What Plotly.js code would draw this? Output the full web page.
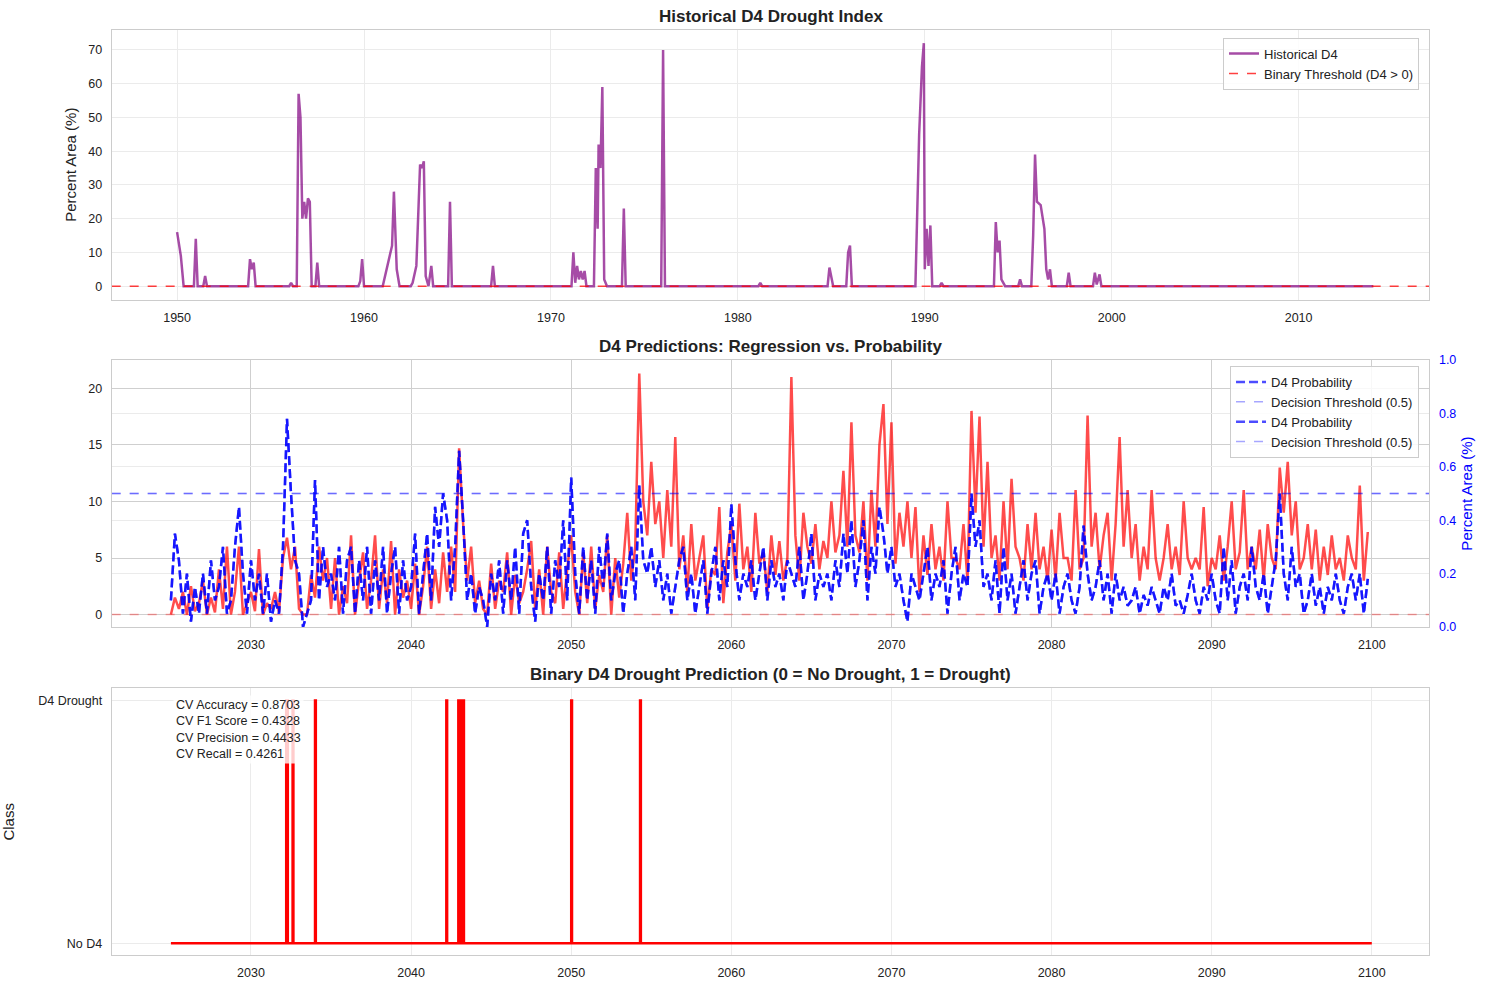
<!DOCTYPE html>
<html>
<head>
<meta charset="utf-8">
<script src="https://cdn.plot.ly/plotly-3.0.1.min.js"></script>
<style>body{margin:0;background:#fff}#chart{width:1489px;height:989px}</style>
</head>
<body>
<div id="chart"></div>
<script>
// Historical D4 (percent area), sparse breakpoints
var histX = [1950.0,1950.2,1950.35,1950.9,1951.0,1951.1,1951.4,1951.5,1951.6,1953.8,1953.9,1954.0,1954.1,1954.2,1956.0,1956.1,1956.2,1956.4,1956.5,1956.6,1956.7,1956.8,1956.9,1957.0,1957.1,1957.2,1957.4,1957.5,1957.6,1959.7,1959.8,1959.9,1960.0,1961.0,1961.5,1961.6,1961.75,1961.9,1962.5,1962.6,1962.8,1963.0,1963.1,1963.2,1963.3,1963.45,1963.6,1963.7,1964.5,1964.6,1964.7,1966.8,1966.9,1967.0,1971.1,1971.2,1971.3,1971.4,1971.5,1971.6,1971.7,1971.8,1971.9,1972.3,1972.4,1972.5,1972.55,1972.65,1972.75,1972.85,1973.0,1973.8,1973.9,1974.0,1975.9,1976.0,1976.1,1981.1,1981.2,1981.3,1984.8,1984.9,1985.1,1985.8,1985.9,1986.0,1986.1,1989.5,1989.7,1989.85,1989.95,1990.0,1990.1,1990.2,1990.3,1990.4,1990.8,1990.9,1991.0,1993.7,1993.8,1993.9,1994.0,1994.1,1994.3,1995.0,1995.1,1995.2,1995.7,1995.8,1995.9,1996.0,1996.2,1996.4,1996.5,1996.6,1996.7,1996.8,1997.6,1997.7,1997.8,1999.0,1999.1,1999.2,1999.35,1999.45,2014.0];
var histY = [16,9,0,0,14,0,0,3,0,0,8,5,7,0,0,1,0,0,57,50,20,25,20,26,25,0,0,7,0,0,1.5,8,0,0,12,28,5,0,0,1,6,36,35,37,3,0,6,0,0,25,0,0,6,0,0,10,1,6,2,4.5,2,4.5,0,0,35,17,42,35,59,2,0,0,23,0,0,70,0,0,1,0,0,5.5,0,0,10,12,0,0,45,65,72,5,17,6,18,0,0,1,0,0,19,10,13.5,2,0,0,2,0,0,15,39,25,24,17,5,2,5,0,0,4,0,0,4,0.5,3.5,0,0];

// Future predictions, quarterly from 2025.0
var startYear = 2025;
var regression = [
0,1.5,0.5,2, 0,2.5,0.3,1, 3,0,1.5,0.2, 4,0.5,6,0, 2,6,0,1,
2,0.3,5.8,0, 1,0.5,2,0.2, 5,6.8,4,6, 0.5,0,0,3.5, 1.5,6,3,5,
0.5,5,0,2.5, 1,7,0,3, 5.5,0.5,3,7, 0.5,4,1,6.5, 0,4,1.5,3,
0.5,4.5,0,2.5, 6,0.5,4,1, 5.5,2,6,2, 14.7,8,3,6, 1,3,0.5,0,
4.5,0.5,3,2, 5.5,0,3.5,1, 2,4,6.5,0.5, 4,0,6,2, 1,5.5,0.5,4,
7,2,0,5.5, 1,6,0.5,3.5, 2,7,0,5, 1.5,4.5,9,3, 6,21.3,10,7,
13.5,8,10,5, 11,6,15.7,4, 7,2,8,3, 5,7,0.5,4, 3.5,9.5,1,5.5,
8,3,9.8,4, 6,2,9,4.5, 5.5,2,7,3.5, 6.5,3,5,21, 7,3,9,6,
4.5,8,4,6.5, 5,10,5.5,7, 12.7,6,17,7, 5.5,10,3,11, 6,15,18.6,8,
17,4.5,9,6, 10,5,9.5,2, 7,3.5,8,4, 6,3,10,5, 5,4,8,3,
18,9,17.5,6, 13.5,5,7,3, 10,4,12,6, 5,3,8,4, 9,4,6,3,
7.5,3,9,5, 5,3,11,4, 5,17.6,6,9, 4,7,9,3, 8,15.7,6,11,
5,8,3,6, 4,11,5,3, 5,8,4,6, 3.5,10,5,4, 5,4,9.5,2.5,
5,4,7,3, 6,10,4,5.5, 11,4,6,4, 7.5,3,8,5, 4,13,9,13.5,
7,10,4,5, 8,4,7.5,3, 6,3.5,7,4, 5,3,7,5, 4,11.4,3,7.3];
var probability = [
0.1,0.35,0.25,0.05, 0.2,0.02,0.15,0.05, 0.2,0.05,0.25,0.1, 0.15,0.3,0.05,0.1, 0.3,0.45,0.2,0.05,
0.25,0.1,0.2,0.05, 0.2,0.02,0.1,0.05, 0.3,0.78,0.5,0.25, 0.2,0,0.05,0.1, 0.55,0.1,0.3,0.15,
0.2,0.1,0.3,0.05, 0.25,0.3,0.05,0.25, 0.1,0.3,0.05,0.25, 0.1,0.3,0.05,0.2, 0.3,0.05,0.25,0.1,
0.15,0.35,0.05,0.2, 0.35,0.1,0.45,0.3, 0.5,0.4,0.1,0.3, 0.66,0.4,0.1,0.2, 0.05,0.15,0.1,0,
0.2,0.1,0.25,0.05, 0.25,0.1,0.3,0.05, 0.35,0.4,0.15,0.02, 0.2,0.1,0.3,0.05, 0.25,0.15,0.4,0.1,
0.56,0.2,0.05,0.3, 0.1,0.25,0.05,0.3, 0.15,0.35,0.1,0.2, 0.25,0.05,0.2,0.3, 0.1,0.53,0.25,0.2,
0.3,0.15,0.25,0.1, 0.2,0.05,0.15,0.25, 0.3,0.1,0.2,0.05, 0.15,0.25,0.05,0.2, 0.3,0.1,0.25,0.15,
0.46,0.25,0.1,0.2, 0.15,0.25,0.1,0.2, 0.3,0.1,0.25,0.15, 0.2,0.1,0.25,0.2, 0.15,0.3,0.1,0.2,
0.35,0.1,0.2,0.15, 0.2,0.1,0.25,0.15, 0.35,0.2,0.4,0.15, 0.25,0.4,0.1,0.3, 0.2,0.45,0.35,0.2,
0.3,0.15,0.2,0.1, 0.02,0.2,0.15,0.1, 0.2,0.3,0.1,0.2, 0.15,0.25,0.05,0.2, 0.3,0.1,0.2,0.15,
0.5,0.3,0.4,0.15, 0.2,0.1,0.25,0.05, 0.3,0.1,0.2,0.05, 0.15,0.25,0.1,0.2, 0.25,0.05,0.15,0.2,
0.1,0.2,0.05,0.15, 0.2,0.1,0.05,0.15, 0.38,0.2,0.1,0.15, 0.25,0.1,0.2,0.05, 0.2,0.1,0.15,0.08,
0.1,0.15,0.05,0.12, 0.08,0.15,0.1,0.05, 0.15,0.1,0.2,0.08, 0.1,0.05,0.12,0.2, 0.1,0.05,0.15,0.1,
0.2,0.1,0.05,0.3, 0.1,0.25,0.05,0.15, 0.2,0.1,0.3,0.15, 0.1,0.2,0.05,0.15, 0.25,0.5,0.2,0.1,
0.3,0.15,0.2,0.05, 0.1,0.2,0.08,0.15, 0.05,0.15,0.1,0.2, 0.1,0.05,0.15,0.2, 0.1,0.2,0.05,0.18];
var futX = regression.map(function (_, i) { return startYear + i * 0.25; });

// Binary prediction: drought spells [start, end]
var droughtSpells = [[2032.2,2032.3],[2032.6,2032.65],[2034.0,2034.05],[2042.2,2042.25],[2042.95,2043.05],[2043.2,2043.3],[2050.0,2050.05],[2054.3,2054.35]];
var binX = [2025], binY = [0];
droughtSpells.forEach(function (s) { binX.push(s[0], s[0], s[1], s[1]); binY.push(0, 1, 1, 0); });
binX.push(2100); binY.push(0);

var cvText = ['CV Accuracy = 0.8703','CV F1 Score = 0.4328','CV Precision = 0.4433','CV Recall = 0.4261'];

var F = 'Liberation Sans, Arial, sans-serif';
var blue = 'rgba(0,0,255,0.7)';
var thr = 'rgba(0,0,255,0.35)';

var data = [
  {x: histX, y: histY, mode: 'lines', name: 'Historical D4', line: {color: 'rgba(128,0,128,0.7)', width: 2.5}, xaxis: 'x', yaxis: 'y', legend: 'legend'},
  {x: [1946.5, 2017], y: [0, 0], mode: 'lines', name: 'Binary Threshold (D4 > 0)', line: {color: 'rgba(255,0,0,0.75)', width: 1.5, dash: 'dash'}, xaxis: 'x', yaxis: 'y', legend: 'legend'},

  {x: [2021.3, 2103.6], y: [0, 0], mode: 'lines', showlegend: false, line: {color: 'rgba(255,0,0,0.35)', width: 1.5, dash: 'dash'}, xaxis: 'x2', yaxis: 'y2'},
  {x: futX, y: regression, mode: 'lines', showlegend: false, line: {color: 'rgba(255,0,0,0.7)', width: 2.5}, xaxis: 'x2', yaxis: 'y2'},
  {x: futX, y: probability, mode: 'lines', name: 'D4 Probability', line: {color: blue, width: 2.5, dash: '9px,4px'}, xaxis: 'x2', yaxis: 'y4', legend: 'legend2'},
  {x: [2021.3, 2103.6], y: [0.5, 0.5], mode: 'lines', name: 'Decision Threshold (0.5)', line: {color: thr, width: 1.5, dash: 'dash'}, xaxis: 'x2', yaxis: 'y4', legend: 'legend2'},
  {x: futX, y: probability, mode: 'lines', name: 'D4 Probability', line: {color: blue, width: 2.5, dash: '9px,4px'}, xaxis: 'x2', yaxis: 'y4', legend: 'legend2'},
  {x: [2021.3, 2103.6], y: [0.5, 0.5], mode: 'lines', name: 'Decision Threshold (0.5)', line: {color: thr, width: 1.5, dash: 'dash'}, xaxis: 'x2', yaxis: 'y4', legend: 'legend2'},

  {x: binX, y: binY, mode: 'lines', showlegend: false, line: {color: 'red', width: 2.5}, xaxis: 'x3', yaxis: 'y3'}
];

var ax = {showline: true, linecolor: '#ccc', mirror: true, gridcolor: '#ebebeb', zeroline: false, ticks: '', ticklabelstandoff: 6, tickfont: {size: 12.5, color: '#222'}};
function A(o) { return Object.assign({}, ax, o); }

var layout = {
  width: 1489, height: 989, paper_bgcolor: '#fff', plot_bgcolor: '#fff',
  font: {family: F, color: '#222'}, margin: {l: 0, r: 0, t: 0, b: 0},
  xaxis: A({domain: [0.075, 0.96], anchor: 'y', range: [1946.5, 2017], tickvals: [1950,1960,1970,1980,1990,2000,2010]}),
  yaxis: A({domain: [0.697, 0.97], anchor: 'x', range: [-4, 76], dtick: 10, title: {text: 'Percent Area (%)', font: {size: 15}, standoff: 8}}),
  xaxis2: A({domain: [0.075, 0.96], anchor: 'y2', range: [2021.3, 2103.6], tickvals: [2030,2040,2050,2060,2070,2080,2090,2100], gridcolor: '#cfcfcf'}),
  yaxis2: A({domain: [0.366, 0.636], anchor: 'x2', range: [-1.1, 22.5], dtick: 5, gridcolor: '#cfcfcf'}),
  yaxis4: A({overlaying: 'y2', side: 'right', anchor: 'x2', range: [0, 1], dtick: 0.2, tickformat: '.1f', gridcolor: '#ebebeb', tickfont: {size: 12.5, color: 'blue'}, title: {text: 'Percent Area (%)', font: {size: 15, color: 'blue'}, standoff: 6}}),
  xaxis3: A({domain: [0.075, 0.96], anchor: 'y3', range: [2021.3, 2103.6], tickvals: [2030,2040,2050,2060,2070,2080,2090,2100]}),
  yaxis3: A({domain: [0.034, 0.304], anchor: 'x3', range: [-0.05, 1.05], tickvals: [0, 1], ticktext: ['No D4', 'D4 Drought'], title: {text: 'Class', font: {size: 15}, standoff: 24}}),
  legend: {x: 0.953, xanchor: 'right', y: 0.962, yanchor: 'top', bgcolor: 'rgba(255,255,255,0.85)', bordercolor: '#ccc', borderwidth: 1, font: {size: 13}, tracegroupgap: 0},
  legend2: {x: 0.953, xanchor: 'right', y: 0.63, yanchor: 'top', bgcolor: 'rgba(255,255,255,0.85)', bordercolor: '#ccc', borderwidth: 1, font: {size: 13}, tracegroupgap: 0},
  annotations: [
    {text: '<b>Historical D4 Drought Index</b>', xref: 'paper', yref: 'paper', x: 0.5175, y: 0.972, yanchor: 'bottom', showarrow: false, font: {size: 17}},
    {text: '<b>D4 Predictions: Regression vs. Probability</b>', xref: 'paper', yref: 'paper', x: 0.5175, y: 0.638, yanchor: 'bottom', showarrow: false, font: {size: 17}},
    {text: '<b>Binary D4 Drought Prediction (0 = No Drought, 1 = Drought)</b>', xref: 'paper', yref: 'paper', x: 0.5175, y: 0.306, yanchor: 'bottom', showarrow: false, font: {size: 17}},
    {text: cvText.join('<br>'), xref: 'paper', yref: 'paper', x: 0.116, y: 0.297, xanchor: 'left', yanchor: 'top', align: 'left', showarrow: false, borderpad: 2, font: {size: 12.5}, bgcolor: 'rgba(255,255,255,0.8)'}
  ]
};

Plotly.newPlot('chart', data, layout, {displayModeBar: false});
</script>
</body>
</html>
